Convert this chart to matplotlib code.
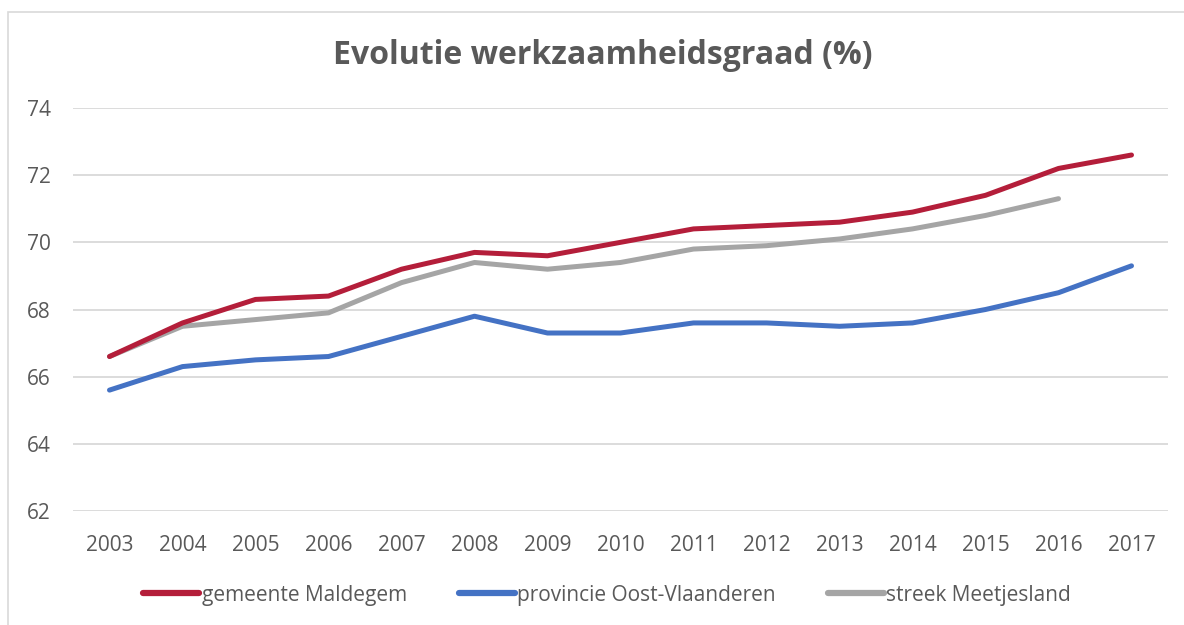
import numpy as np
import matplotlib.pyplot as plt
from matplotlib.patches import Rectangle

plt.rcParams['font.family'] = ['Open Sans', 'DejaVu Sans']

years = [str(y) for y in range(2003, 2018)]
maldegem = [66.6, 67.6, 68.3, 68.4, 69.2, 69.7, 69.6, 70.0, 70.4, 70.5, 70.6, 70.9, 71.4, 72.2, 72.6]
provincie = [65.6, 66.3, 66.5, 66.6, 67.2, 67.8, 67.3, 67.3, 67.6, 67.6, 67.5, 67.6, 68.0, 68.5, 69.3]
streek = [66.6, 67.5, 67.7, 67.9, 68.8, 69.4, 69.2, 69.4, 69.8, 69.9, 70.1, 70.4, 70.8, 71.3, np.nan]
yticks = [62, 64, 66, 68, 70, 72, 74]

txt = '#595959'
fig = plt.figure(figsize=(11.84, 6.25), dpi=100)
# chart border
fig.patches.append(Rectangle((8 / 1184, -0.01), 1.0, 1 - 12 / 625 + 0.01, transform=fig.transFigure,
                             fill=False, edgecolor='#D9D9D9', linewidth=1.2))

ax = fig.add_axes([73 / 1184, 1 - 511 / 625, (1168 - 73) / 1184, (511 - 108) / 625])
x = np.arange(len(years))
ax.plot(x, maldegem, color='#B41E3A', lw=3.6, solid_capstyle='round', label='gemeente Maldegem', zorder=3)
ax.plot(x, provincie, color='#4472C4', lw=3.6, solid_capstyle='round', label='provincie Oost-Vlaanderen', zorder=3)
ax.plot(x, streek, color='#A5A5A5', lw=3.6, solid_capstyle='round', label='streek Meetjesland', zorder=2)

ax.set_xlim(-0.5, len(years) - 0.5)
ax.set_ylim(62, 74)
ax.set_yticks(yticks)
ax.set_xticks(x)
ax.set_xticklabels(years)
ax.grid(axis='y', color='#D9D9D9', lw=1.3)
ax.set_axisbelow(True)
for s in ax.spines.values():
    s.set_visible(False)
ax.tick_params(length=0, labelsize=15, colors=txt)
ax.tick_params(axis='y', pad=16)
ax.tick_params(axis='x', pad=17)

fig.text(603 / 1184, 1 - 55 / 625, 'Evolutie werkzaamheidsgraad (%)', ha='center', va='center',
         fontsize=23, fontweight='bold', color=txt)

leg = fig.legend(loc='center', bbox_to_anchor=(607 / 1184, 1 - 595 / 625), ncol=3, frameon=False,
                 fontsize=15, handlelength=2.7, handletextpad=0.1, columnspacing=2.5)
for t in leg.get_texts():
    t.set_color(txt)
for h in leg.get_lines():
    h.set_linewidth(4.5)

fig.savefig('out.png', dpi=100)
